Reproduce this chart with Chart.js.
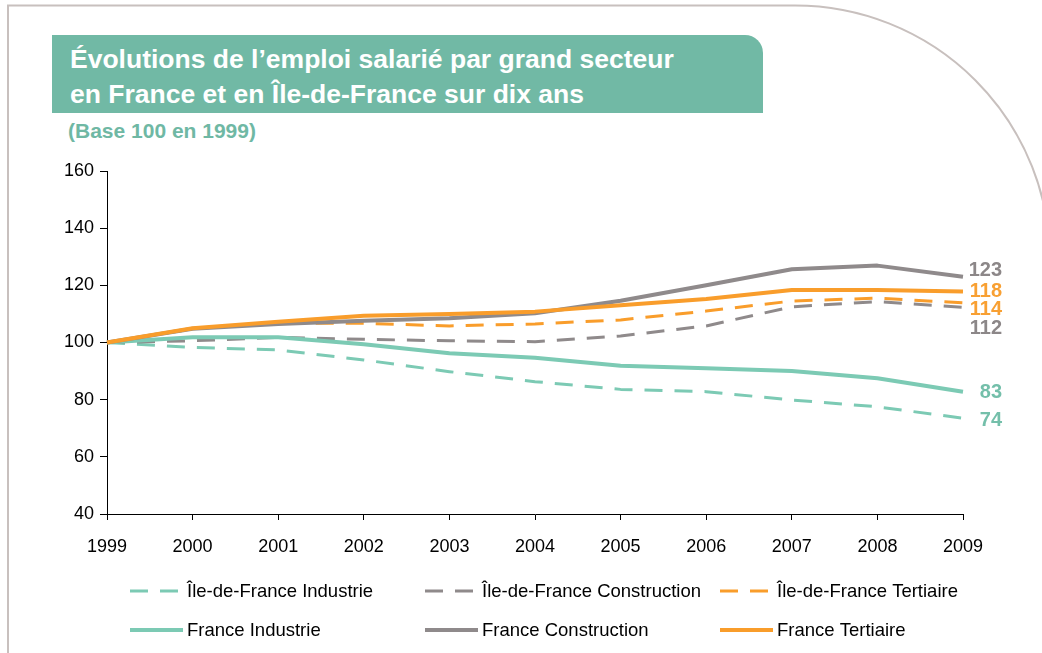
<!DOCTYPE html>
<html lang="fr">
<head>
<meta charset="utf-8">
<script src="https://cdn.jsdelivr.net/npm/chart.js@4.4.1/dist/chart.umd.min.js"></script>
<style>
  html, body { margin: 0; padding: 0; background: #ffffff; }
  body { width: 1042px; height: 653px; position: relative; overflow: hidden; font-family: 'Liberation Sans', Arial, sans-serif; }
  #frame { position: absolute; left: 0; top: 0; }
  #titlebox { position: absolute; left: 52px; top: 35px; width: 711px; height: 78px; background: #71b9a5; border-top-right-radius: 18px; box-sizing: border-box; padding: 7px 0 0 18px; color: #ffffff; font-weight: bold; font-size: 26.5px; line-height: 35px; white-space: nowrap; }
  #subtitle { position: absolute; left: 68px; top: 119px; color: #6fb8a4; font-weight: bold; font-size: 21px; line-height: 24px; white-space: nowrap; }
  #chart { position: absolute; left: 0; top: 0; }
</style>
</head>
<body>
<svg id="frame" width="1042" height="653" viewBox="0 0 1042 653">
  <path d="M 8 653 L 8 5.5 L 795 5.5 A 255 255 0 0 1 1050 260.5" fill="none" stroke="#c8c0be" stroke-width="2"/>
</svg>
<div id="titlebox">Évolutions de l’emploi salarié par grand secteur<br>en France et en Île-de-France sur dix ans</div>
<div id="subtitle">(Base 100 en 1999)</div>
<canvas id="chart" width="1042" height="653"></canvas>
<script>
// ---- Data ----
const years = ['1999','2000','2001','2002','2003','2004','2005','2006','2007','2008','2009'];
const seriesNames = [
  'Île-de-France Industrie', 'Île-de-France Construction', 'Île-de-France Tertiaire',
  'France Industrie', 'France Construction', 'France Tertiaire'
];
const idfIndustrie     = [100, 98.3, 97.4, 93.9, 89.8, 86.3, 83.6, 82.8, 79.9, 77.5, 73.5];
const idfConstruction  = [100, 100.6, 101.8, 101.1, 100.6, 100.3, 102.3, 105.8, 112.5, 114.3, 112.3];
const idfTertiaire     = [100, 104.8, 106.8, 106.7, 105.8, 106.5, 107.9, 111.0, 114.5, 115.5, 113.9];
const frIndustrie      = [100, 101.8, 101.8, 99.4, 96.2, 94.7, 91.9, 91.0, 90.0, 87.5, 82.8];
const frConstruction   = [100, 104.8, 106.5, 107.6, 108.5, 110.2, 114.6, 120.0, 125.6, 126.9, 123.0];
const frTertiaire      = [100, 105.0, 107.3, 109.4, 110.0, 110.8, 113.0, 115.2, 118.4, 118.4, 117.8];
const endLabels = ['74', '112', '114', '83', '123', '118'];
const yTicks = [40, 60, 80, 100, 120, 140, 160];

// ---- Styles ----
const TEAL = '#7ccab4', GREY = '#8f8a8b', ORANGE = '#f99d2b';
const LABEL_COLORS = ['#74bfaa', '#8c8788', '#f8a033', '#74bfaa', '#8c8788', '#f8a033'];
const LABEL_DY = [2, 21, 7, 1, -6, 0];
const DASH = [18, 12];
const FONT = "'Liberation Sans', Arial, sans-serif";

function ds(label, data, color, dashed, order) {
  return {
    label, data, borderColor: color, backgroundColor: color,
    borderWidth: dashed ? 3 : 4, borderDash: dashed ? DASH : [],
    pointRadius: 0, tension: 0, fill: false, order,
    borderCapStyle: 'butt', borderJoinStyle: 'round'
  };
}

const endLabelPlugin = {
  id: 'endLabels',
  afterDatasetsDraw(chart) {
    const ctx = chart.ctx;
    const xs = chart.scales.x, ys = chart.scales.y;
    ctx.save();
    ctx.font = 'bold 20px ' + FONT;
    ctx.textAlign = 'right';
    ctx.textBaseline = 'middle';
    chart.data.datasets.forEach((d, i) => {
      const last = d.data.length - 1;
      const x = xs.getPixelForValue(last) + 39;
      const y = ys.getPixelForValue(d.data[last]) + LABEL_DY[i];
      ctx.fillStyle = LABEL_COLORS[i];
      ctx.fillText(endLabels[i], x, y);
    });
    ctx.restore();
  }
};

const gridLegendPlugin = {
  id: 'gridLegend',
  afterDraw(chart) {
    const ctx = chart.ctx;
    const colX = [130, 425, 720];
    const rowY = [591, 630];
    ctx.save();
    ctx.font = '18.5px ' + FONT;
    ctx.textBaseline = 'middle';
    ctx.textAlign = 'left';
    chart.data.datasets.forEach((d, i) => {
      const x0 = colX[i % 3], y = rowY[Math.floor(i / 3)];
      ctx.beginPath();
      ctx.strokeStyle = d.borderColor;
      ctx.lineWidth = d.borderWidth;
      ctx.setLineDash(d.borderDash);
      ctx.moveTo(x0, y);
      ctx.lineTo(x0 + (d.borderDash.length ? 49 : 53), y);
      ctx.stroke();
      ctx.setLineDash([]);
      ctx.fillStyle = '#000000';
      ctx.fillText(d.label, x0 + 57, y + 1);
    });
    ctx.restore();
  }
};

new Chart(document.getElementById('chart'), {
  type: 'line',
  data: {
    labels: years,
    datasets: [
      ds(seriesNames[0], idfIndustrie, TEAL, true, 5),
      ds(seriesNames[1], idfConstruction, GREY, true, 4),
      ds(seriesNames[2], idfTertiaire, ORANGE, true, 3),
      ds(seriesNames[3], frIndustrie, TEAL, false, 2),
      ds(seriesNames[4], frConstruction, GREY, false, 1),
      ds(seriesNames[5], frTertiaire, ORANGE, false, 0)
    ]
  },
  options: {
    responsive: false,
    animation: false,
    devicePixelRatio: 1,
    layout: { padding: { top: 171, right: 79, left: 0, bottom: 0 } },
    plugins: { legend: { display: false }, tooltip: { enabled: false }, title: { display: false } },
    scales: {
      x: {
        type: 'category',
        offset: false,
        grid: { display: true, drawOnChartArea: false, drawTicks: true, tickLength: 6, color: '#000000' },
        border: { display: true, color: '#000000', width: 1 },
        ticks: { color: '#000000', font: { family: FONT, size: 18 }, padding: 16, maxRotation: 0, autoSkip: false },
        afterFit(s) { s.height = 139; }
      },
      y: {
        min: 40, max: 160,
        afterBuildTicks(s) { s.ticks = yTicks.map(v => ({ value: v })); },
        grid: { display: true, drawOnChartArea: false, drawTicks: true, tickLength: 7, color: '#000000' },
        border: { display: true, color: '#000000', width: 1 },
        ticks: { color: '#000000', font: { family: FONT, size: 18 }, padding: 6 },
        afterFit(s) { s.width = 107; }
      }
    }
  },
  plugins: [endLabelPlugin, gridLegendPlugin]
});
</script>
</body>
</html>
